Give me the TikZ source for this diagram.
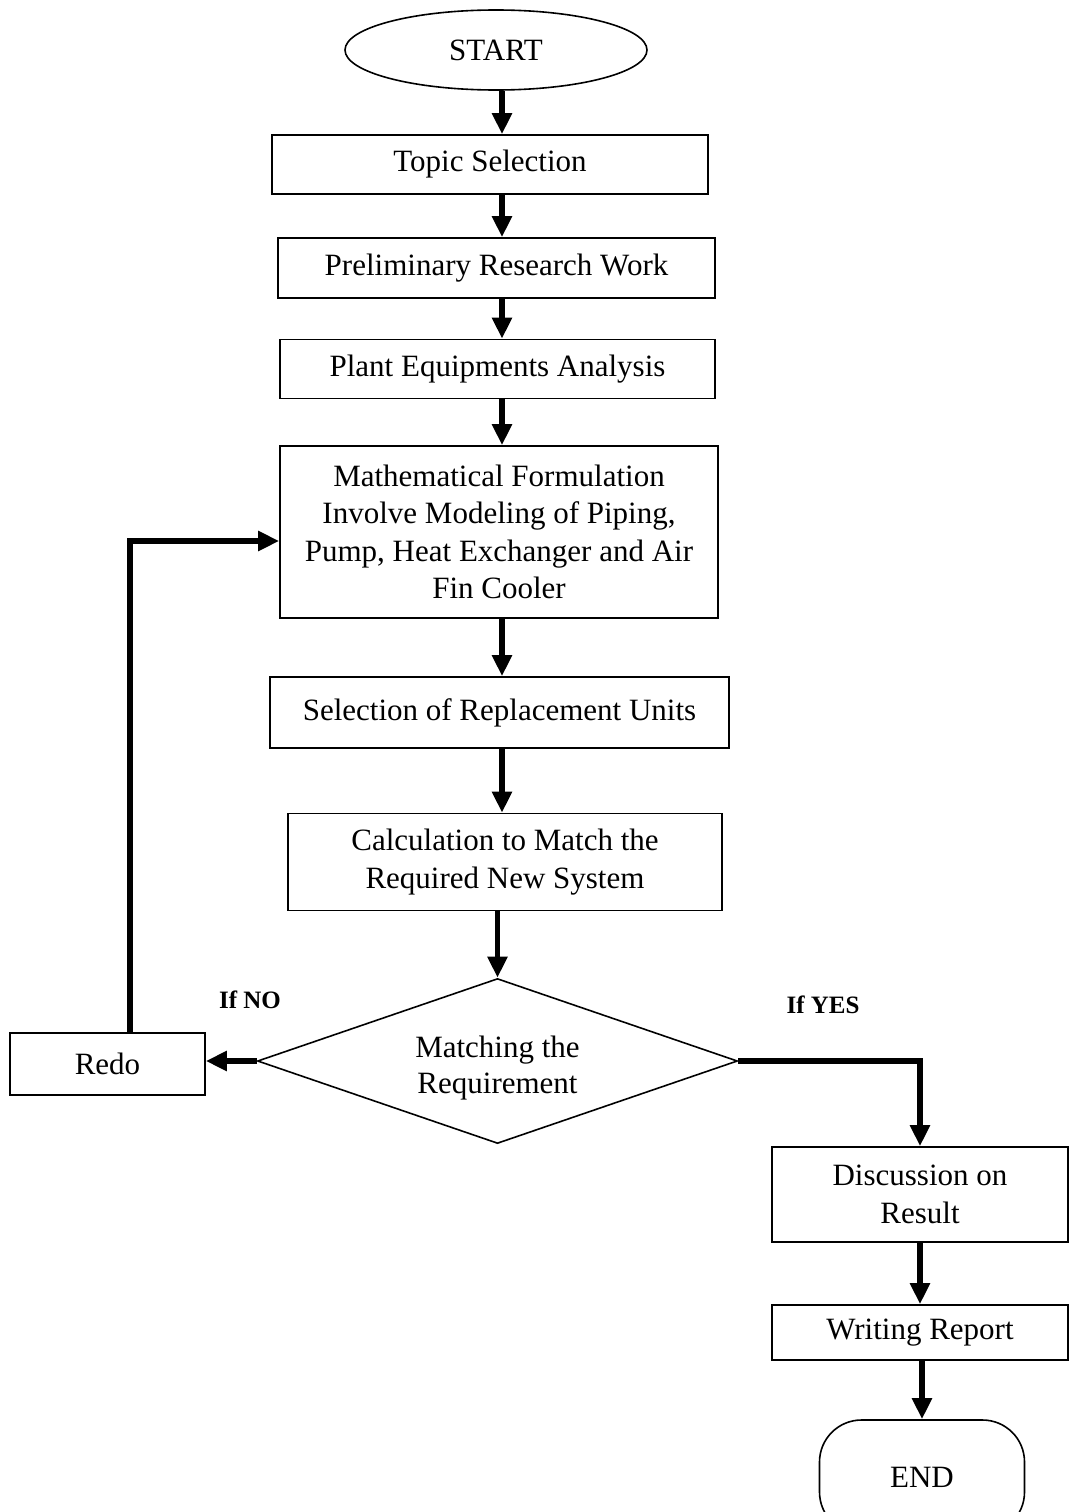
\documentclass[tikz,border=0pt]{standalone}
\usepackage{fontspec}
\setmainfont{Liberation Serif}
\usetikzlibrary{shapes.geometric,arrows.meta}
\begin{document}
\begin{tikzpicture}[x=1pt,y=-1pt,
  every node/.style={font=\fontsize{31}{37.5}\selectfont, inner sep=0pt, align=center},
  box/.style={draw, line width=1.6pt, rectangle},
  arr/.style={line width=5.5pt, -{Triangle[length=21pt,width=19pt]}},
  lbl/.style={font=\fontsize{25}{30}\selectfont\bfseries}]
\useasboundingbox (0,0) rectangle (1070,1512);
\fill[white] (0,0) rectangle (1070,1512);
\clip (0,0) rectangle (1070,1512);

\node[draw, line width=1.6pt, ellipse, minimum width=302pt, minimum height=80pt] (start) at (496,50) {START};
\node[box, minimum width=436pt, minimum height=59pt] (topic) at (490,164.5) {Topic Selection};
\node[box, minimum width=437pt, minimum height=60pt] (prelim) at (496.5,268) {Preliminary Research Work};
\node[box, minimum width=435pt, minimum height=59pt] (plant) at (497.5,369) {Plant Equipments Analysis};
\node[box, minimum width=438pt, minimum height=172pt] (math) at (499,532) {Mathematical Formulation\\Involve Modeling of Piping,\\Pump, Heat Exchanger and Air\\Fin Cooler};
\node[box, minimum width=459pt, minimum height=71pt] (sel) at (499.5,712.5) {Selection of Replacement Units};
\node[box, minimum width=434pt, minimum height=97pt] (calc) at (505,862) {Calculation to Match the\\Required New System};
\node[draw, line width=1.6pt, diamond, aspect=2.9, minimum width=480pt, minimum height=165pt] (dec) at (497.5,1061) {\raisebox{-13pt}[0pt][0pt]{\begin{tabular}{@{}c@{}}Matching the\\[-1.5pt]Requirement\end{tabular}}};
\node[box, minimum width=195pt, minimum height=62pt] (redo) at (107.5,1064) {Redo};
\node[box, minimum width=296pt, minimum height=95pt] (disc) at (920,1194.5) {Discussion on\\Result};
\node[box, minimum width=296pt, minimum height=55pt] (write) at (920,1332.5) {Writing Report};
\node[draw, line width=1.6pt, rectangle, rounded corners=42pt, minimum width=205pt, minimum height=114pt] (end) at (922,1477) {END};

\node[lbl] (ifno) at (250,1000) {If NO};
\node[lbl] (ifyes) at (823,1005) {If YES};

\coordinate (col) at (502,0);
\coordinate (loopx) at (130,0);
\coordinate (loopy) at (0,541);

\draw[arr] (start.south -| col) -- (topic.north -| col);
\draw[arr] (topic.south -| col) -- (prelim.north -| col);
\draw[arr] (prelim.south -| col) -- (plant.north -| col);
\draw[arr] (plant.south -| col) -- (math.north -| col);
\draw[arr] (math.south -| col) -- (sel.north -| col);
\draw[arr] (sel.south -| col) -- (calc.north -| col);
\draw[arr] (calc.south -| dec.north) -- (dec.north);
\draw[arr] (dec.west) -- (redo.east |- dec.west);
\draw[arr, line width=6pt] (redo.north -| loopx) |- (math.west |- loopy);
\draw[arr] (dec.east) -| (disc.north);
\draw[arr] (disc.south) -- (write.north);
\draw[arr] (write.south -| end.north) -- (end.north);
\end{tikzpicture}
\end{document}
